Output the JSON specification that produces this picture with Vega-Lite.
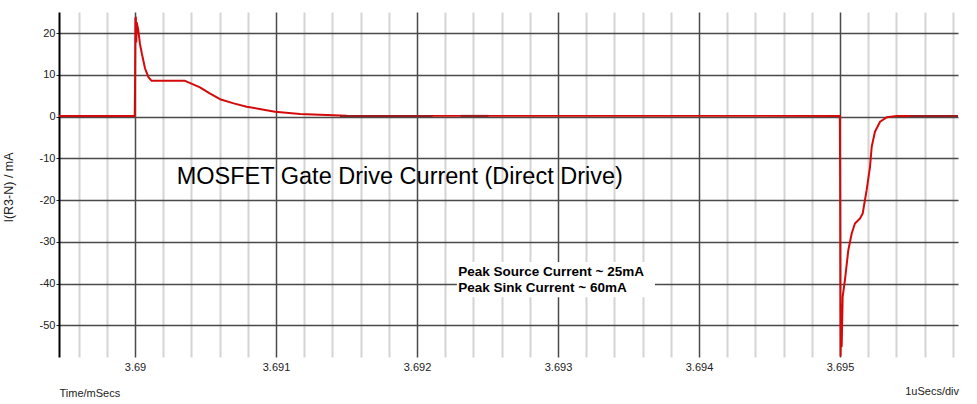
{
  "$schema": "https://vega.github.io/schema/vega-lite/v6.json",
  "width": 899,
  "height": 345,
  "autosize": {"type": "none"},
  "padding": {"left": 59, "top": 12, "right": 19, "bottom": 47},
  "background": "white",
  "config": {
    "font": "Liberation Sans",
    "view": {"stroke": null},
    "title": {"font": "Liberation Sans"}
  },
  "title": {"text": "1uSecs/div", "orient": "bottom", "anchor": "end", "fontSize": 11, "fontWeight": "normal", "color": "#222", "offset": -12},
  "datasets": {
    "curve": [
      {"t": 3.689461, "i": 0.2, "s": "main"},
      {"t": 3.689998, "i": 0.2, "s": "main"},
      {"t": 3.69, "i": 6.4, "s": "main"},
      {"t": 3.690003, "i": 23.6, "s": "main"},
      {"t": 3.690006, "i": 23.8, "s": "main"},
      {"t": 3.690009, "i": 18.0, "s": "main"},
      {"t": 3.690013, "i": 22.5, "s": "main"},
      {"t": 3.690023, "i": 20.8, "s": "main"},
      {"t": 3.690035, "i": 17.5, "s": "main"},
      {"t": 3.690048, "i": 15.2, "s": "main"},
      {"t": 3.690071, "i": 11.6, "s": "main"},
      {"t": 3.690095, "i": 9.5, "s": "main"},
      {"t": 3.690118, "i": 8.6, "s": "main"},
      {"t": 3.690355, "i": 8.6, "s": "main"},
      {"t": 3.690461, "i": 7.05, "s": "main"},
      {"t": 3.69053, "i": 5.6, "s": "main"},
      {"t": 3.690603, "i": 4.2, "s": "main"},
      {"t": 3.6907, "i": 3.2, "s": "main"},
      {"t": 3.690792, "i": 2.4, "s": "main"},
      {"t": 3.690993, "i": 1.2, "s": "main"},
      {"t": 3.69117, "i": 0.65, "s": "main"},
      {"t": 3.691501, "i": 0.25, "s": "main"},
      {"t": 3.6917, "i": 0.2, "s": "main"},
      {"t": 3.694999, "i": 0.2, "s": "main"},
      {"t": 3.695001, "i": -14.4, "s": "main"},
      {"t": 3.695004, "i": -57.3, "s": "main"},
      {"t": 3.695009, "i": -45.0, "s": "main"},
      {"t": 3.695012, "i": -55.0, "s": "main"},
      {"t": 3.695019, "i": -43.2, "s": "main"},
      {"t": 3.695035, "i": -39.2, "s": "main"},
      {"t": 3.695059, "i": -32.0, "s": "main"},
      {"t": 3.695083, "i": -28.0, "s": "main"},
      {"t": 3.695106, "i": -25.6, "s": "main"},
      {"t": 3.695142, "i": -24.4, "s": "main"},
      {"t": 3.695161, "i": -23.2, "s": "main"},
      {"t": 3.695189, "i": -17.6, "s": "main"},
      {"t": 3.695213, "i": -12.0, "s": "main"},
      {"t": 3.695225, "i": -7.2, "s": "main"},
      {"t": 3.695248, "i": -3.6, "s": "main"},
      {"t": 3.695284, "i": -1.2, "s": "main"},
      {"t": 3.695331, "i": -0.15, "s": "main"},
      {"t": 3.695402, "i": 0.2, "s": "main"},
      {"t": 3.695837, "i": 0.2, "s": "main"},
      {"t": 3.691454, "i": 0.2, "s": "d1"},
      {"t": 3.692111, "i": 0.2, "s": "d1"},
      {"t": 3.69231, "i": 0.2, "s": "d2"},
      {"t": 3.692506, "i": 0.2, "s": "d2"},
      {"t": 3.695496, "i": 0.2, "s": "d3"},
      {"t": 3.695837, "i": 0.2, "s": "d3"}
    ],
    "box": [
      {"x1": 3.692283, "x2": 3.693688, "y1": -34.8, "y2": -43.3}
    ],
    "title": [
      {"t": 3.690296, "i": -16.2, "label": "MOSFET Gate Drive Current (Direct Drive)"}
    ],
    "notes": [
      {"t": 3.692293, "i": -38.1, "label": "Peak Source Current ~ 25mA"},
      {"t": 3.692293, "i": -42.0, "label": "Peak Sink Current ~ 60mA"}
    ]
  },
  "resolve": {"axis": {"x": "independent"}},
  "layer": [
    {
      "data": {"name": "box"},
      "mark": {"type": "rect", "fill": "white", "stroke": null},
      "encoding": {
        "x": {
          "field": "x1", "type": "quantitative",
          "scale": {"domain": [3.689461, 3.695837], "nice": false, "zero": false},
          "axis": {
            "orient": "top",
            "values": [3.6896, 3.6898, 3.6902, 3.6904, 3.6906, 3.6908, 3.6912, 3.6914, 3.6916, 3.6918, 3.6922, 3.6924, 3.6926, 3.6928, 3.6932, 3.6934, 3.6936, 3.6938, 3.6942, 3.6944, 3.6946, 3.6948, 3.6952, 3.6954, 3.6956, 3.6958],
            "grid": true, "gridColor": "#d4d4d4", "gridWidth": 2,
            "labels": false, "ticks": false, "domain": false, "title": null
          }
        },
        "x2": {"field": "x2"},
        "y": {"field": "y1", "type": "quantitative", "scale": {"domain": [-57.6, 25.1], "nice": false, "zero": false}},
        "y2": {"field": "y2"}
      }
    },
    {
      "data": {"name": "curve"},
      "mark": {"type": "line", "strokeWidth": 2, "strokeJoin": "round"},
      "encoding": {
        "x": {
          "field": "t", "type": "quantitative",
          "scale": {"domain": [3.689461, 3.695837], "nice": false, "zero": false},
          "axis": {
            "orient": "bottom",
            "values": [3.69, 3.691, 3.692, 3.693, 3.694, 3.695],
            "format": ".4~f",
            "grid": true, "gridColor": "#4a4a4a", "gridWidth": 1.5,
            "domain": false, "ticks": false,
            "labelFontSize": 11, "labelColor": "#222", "labelPadding": 4,
            "title": "Time/mSecs", "titleFontSize": 11, "titleFontWeight": "normal", "titleColor": "#222",
            "titleAnchor": "start", "titleAlign": "left", "titleX": 0, "titleY": 39, "titleBaseline": "alphabetic"
          }
        },
        "y": {
          "field": "i", "type": "quantitative",
          "scale": {"domain": [-57.6, 25.1], "nice": false, "zero": false},
          "axis": {
            "values": [-50, -40, -30, -20, -10, 0, 10, 20],
            "labelExpr": "replace(datum.label, '\u2212', '-')",
            "grid": true, "gridColor": "#4a4a4a", "gridWidth": 1.5,
            "domain": true, "domainColor": "#000", "domainWidth": 2,
            "ticks": true, "tickSize": 3, "tickColor": "#222",
            "labelFontSize": 11, "labelColor": "#222", "labelPadding": 1,
            "title": "I(R3-N) / mA", "titleFontSize": 12.5, "titleFontWeight": "normal", "titleColor": "#222",
            "titleAngle": -90, "titleX": -51, "titleY": 175, "titleAlign": "center", "titleBaseline": "middle"
          }
        },
        "color": {
          "field": "s", "type": "nominal",
          "scale": {"domain": ["main", "d1", "d2", "d3"], "range": ["#d40a0a", "#9a1c1c", "#9a1c1c", "#9a1c1c"]},
          "legend": null
        }
      }
    },
    {
      "data": {"name": "title"},
      "mark": {"type": "text", "align": "left", "baseline": "alphabetic", "fontSize": 23.5, "color": "#000"},
      "encoding": {
        "x": {"field": "t", "type": "quantitative", "axis": null},
        "y": {"field": "i", "type": "quantitative"},
        "text": {"field": "label"}
      }
    },
    {
      "data": {"name": "notes"},
      "mark": {"type": "text", "align": "left", "baseline": "alphabetic", "fontSize": 13.5, "fontWeight": "bold", "color": "#000"},
      "encoding": {
        "x": {"field": "t", "type": "quantitative", "axis": null},
        "y": {"field": "i", "type": "quantitative"},
        "text": {"field": "label"}
      }
    }
  ]
}
